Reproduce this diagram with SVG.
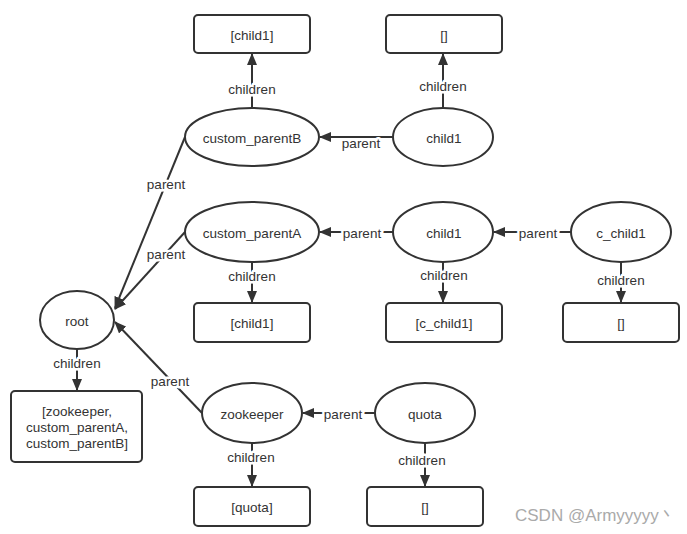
<svg xmlns="http://www.w3.org/2000/svg" width="687" height="534" viewBox="0 0 687 534">
<defs>
<marker id="ah" viewBox="0 0 12 10" refX="11" refY="5" markerWidth="12" markerHeight="10" markerUnits="userSpaceOnUse" orient="auto">
<path d="M0,0 L12,5 L0,10 Z" fill="#333"/>
</marker>
</defs>
<style>
.n{fill:#fff;stroke:#333;stroke-width:2}
.t{font-family:"Liberation Sans",Arial,sans-serif;font-size:13.5px;fill:#333;text-anchor:middle;dominant-baseline:central}
.c{stroke:#333;stroke-width:2;fill:none;marker-end:url(#ah)}
.l{font-family:"Liberation Sans",Arial,sans-serif;font-size:13.5px;fill:#333;text-anchor:middle;dominant-baseline:central;stroke:#fff;stroke-width:5;paint-order:stroke;stroke-linejoin:round}
</style>
<rect width="687" height="534" fill="#fff"/>
<g id="connectors">
<line class="c" x1="252" y1="108" x2="252" y2="54"/>
<line class="c" x1="443" y1="108" x2="443" y2="54"/>
<line class="c" x1="393" y1="137" x2="320" y2="137"/>
<line class="c" x1="185" y1="137" x2="115" y2="308"/>
<line class="c" x1="185" y1="232" x2="115" y2="309"/>
<line class="c" x1="393" y1="232" x2="320" y2="232"/>
<line class="c" x1="571" y1="232" x2="494" y2="232"/>
<line class="c" x1="252" y1="262" x2="252" y2="302"/>
<line class="c" x1="443" y1="262" x2="443" y2="302"/>
<line class="c" x1="621" y1="262" x2="621" y2="302"/>
<line class="c" x1="77" y1="349" x2="77" y2="390"/>
<line class="c" x1="202" y1="413" x2="115" y2="322"/>
<line class="c" x1="375" y1="413" x2="303" y2="413"/>
<line class="c" x1="252" y1="443" x2="252" y2="486"/>
<line class="c" x1="425" y1="443" x2="425" y2="486"/>
<text class="l" x="252" y="89">children</text>
<text class="l" x="443" y="86">children</text>
<text class="l" x="361" y="143">parent</text>
<text class="l" x="166" y="184">parent</text>
<text class="l" x="166" y="254">parent</text>
<text class="l" x="362" y="233">parent</text>
<text class="l" x="538" y="233">parent</text>
<text class="l" x="252" y="276">children</text>
<text class="l" x="444" y="275">children</text>
<text class="l" x="621" y="280">children</text>
<text class="l" x="77" y="363">children</text>
<text class="l" x="170" y="381">parent</text>
<text class="l" x="343" y="414">parent</text>
<text class="l" x="251" y="457">children</text>
<text class="l" x="422" y="460">children</text>
</g>
<g id="box-cpb-children"><rect class="n" x="194" y="15" width="116" height="38" rx="4"/><text class="t" x="252" y="35">[child1]</text></g>
<g id="box-child1-top-children"><rect class="n" x="386" y="15" width="116" height="38" rx="4"/><text class="t" x="444" y="35">[]</text></g>
<g id="custom_parentB"><ellipse class="n" cx="252" cy="137" rx="67" ry="29"/><text class="t" x="252" y="138">custom_parentB</text></g>
<g id="child1-top"><ellipse class="n" cx="443" cy="137" rx="50" ry="29"/><text class="t" x="444" y="138">child1</text></g>
<g id="custom_parentA"><ellipse class="n" cx="252" cy="232" rx="67" ry="30"/><text class="t" x="252" y="233">custom_parentA</text></g>
<g id="child1-mid"><ellipse class="n" cx="443" cy="232" rx="50" ry="30"/><text class="t" x="444" y="233">child1</text></g>
<g id="c_child1"><ellipse class="n" cx="621" cy="232" rx="50" ry="30"/><text class="t" x="621" y="233">c_child1</text></g>
<g id="box-cpa-children"><rect class="n" x="194" y="303" width="116" height="39" rx="4"/><text class="t" x="252" y="323">[child1]</text></g>
<g id="box-child1-mid-children"><rect class="n" x="386" y="303" width="116" height="39" rx="4"/><text class="t" x="444" y="323">[c_child1]</text></g>
<g id="box-cchild1-children"><rect class="n" x="563" y="303" width="116" height="39" rx="4"/><text class="t" x="621" y="323">[]</text></g>
<g id="root"><ellipse class="n" cx="77" cy="320" rx="37" ry="29"/><text class="t" x="77" y="321">root</text></g>
<g id="box-root-children"><rect class="n" x="11" y="391" width="131" height="71" rx="4"/><text class="t" x="77" y="411">[zookeeper,</text><text class="t" x="77" y="427">custom_parentA,</text><text class="t" x="77" y="443">custom_parentB]</text></g>
<g id="zookeeper"><ellipse class="n" cx="252" cy="413" rx="50" ry="30"/><text class="t" x="252" y="414">zookeeper</text></g>
<g id="quota"><ellipse class="n" cx="425" cy="413" rx="50" ry="30"/><text class="t" x="425" y="414">quota</text></g>
<g id="box-zk-children"><rect class="n" x="194" y="487" width="116" height="39" rx="4"/><text class="t" x="252" y="507">[quota]</text></g>
<g id="box-quota-children"><rect class="n" x="367" y="487" width="116" height="39" rx="4"/><text class="t" x="425" y="507">[]</text></g>
<text x="515" y="521" font-family="Liberation Sans,Arial,sans-serif" font-size="17" fill="#aaa">CSDN @Armyyyyy丶</text>
</svg>
